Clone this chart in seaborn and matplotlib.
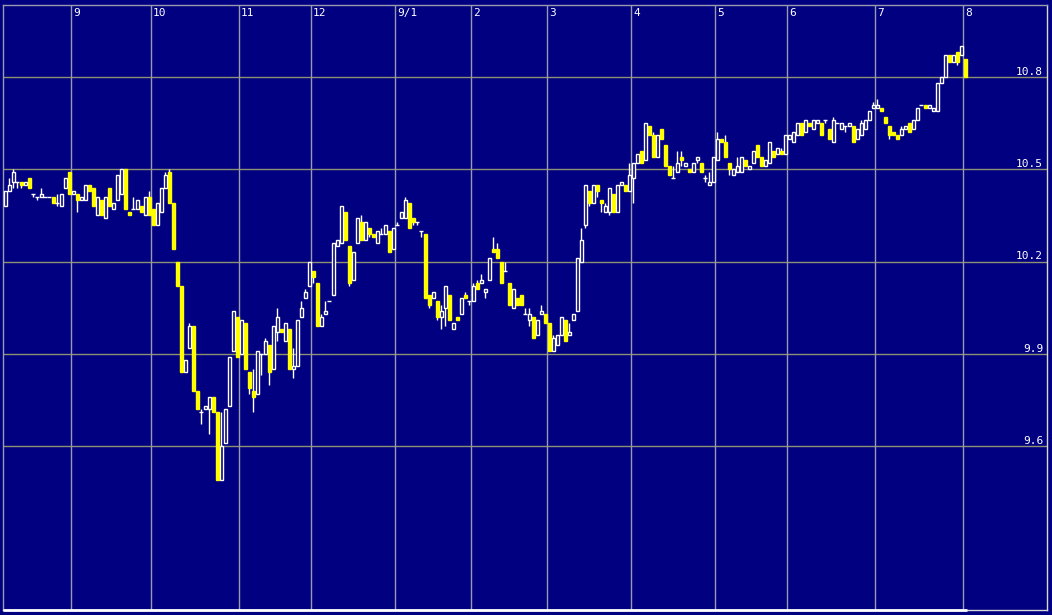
import numpy as np
import pandas as pd
import matplotlib
matplotlib.use("Agg")
import matplotlib.pyplot as plt
import matplotlib.transforms as mtransforms
import seaborn as sns

# ---------------- data (intraday candles) ----------------
open_ = [10.38, 10.43, 10.46, 10.46, 10.46, 10.45, 10.47, 10.42, 10.41, 10.41,
         10.41, 10.41, 10.41, 10.39, 10.38, 10.44, 10.49, 10.42, 10.42, 10.40,
         10.40, 10.45, 10.44, 10.35, 10.40, 10.34, 10.44, 10.37, 10.40, 10.42,
         10.50, 10.36, 10.37, 10.37, 10.38, 10.35, 10.41, 10.37, 10.32, 10.36,
         10.44, 10.49, 10.39, 10.20, 10.12, 9.84, 9.92, 9.99, 9.78, 9.71,
         9.72, 9.72, 9.76, 9.71, 9.49, 9.61, 9.73, 9.91, 10.02, 9.90,
         10.00, 9.84, 9.78, 9.77, 9.90, 9.90, 9.93, 9.85, 9.97, 9.98,
         9.94, 9.98, 9.85, 9.86, 10.02, 10.08, 10.12, 10.17, 10.13, 9.99,
         10.03, 10.07, 10.09, 10.25, 10.26, 10.36, 10.25, 10.14, 10.26, 10.33,
         10.27, 10.31, 10.29, 10.26, 10.29, 10.29, 10.30, 10.24, 10.32, 10.34,
         10.34, 10.39, 10.34, 10.33, 10.30, 10.29, 10.09, 10.08, 10.07, 10.02,
         10.05, 10.09, 9.98, 10.02, 10.03, 10.09, 10.07, 10.07, 10.13, 10.13,
         10.10, 10.14, 10.24, 10.24, 10.20, 10.17, 10.13, 10.05, 10.08, 10.09,
         10.03, 10.01, 10.02, 9.96, 10.03, 10.03, 10.00, 9.91, 9.93, 9.96,
         10.01, 9.96, 10.01, 10.04, 10.20, 10.32, 10.43, 10.39, 10.45, 10.40,
         10.36, 10.36, 10.42, 10.36, 10.45, 10.45, 10.43, 10.47, 10.52, 10.56,
         10.53, 10.64, 10.61, 10.54, 10.63, 10.58, 10.51, 10.47, 10.49, 10.54,
         10.51, 10.50, 10.49, 10.53, 10.52, 10.47, 10.45, 10.46, 10.53, 10.60,
         10.59, 10.52, 10.48, 10.49, 10.49, 10.53, 10.50, 10.52, 10.58, 10.54,
         10.51, 10.52, 10.56, 10.55, 10.56, 10.55, 10.60, 10.59, 10.61, 10.65,
         10.62, 10.65, 10.63, 10.65, 10.65, 10.66, 10.63, 10.59, 10.65, 10.63,
         10.64, 10.64, 10.64, 10.60, 10.61, 10.63, 10.66, 10.70, 10.70, 10.70,
         10.67, 10.64, 10.62, 10.61, 10.61, 10.63, 10.65, 10.63, 10.66, 10.71,
         10.71, 10.70, 10.69, 10.69, 10.78, 10.80, 10.87, 10.85, 10.88, 10.87,
         10.86]
high = [10.43, 10.47, 10.50, 10.46, 10.46, 10.46, 10.47, 10.42, 10.41, 10.44,
        10.41, 10.41, 10.41, 10.42, 10.42, 10.47, 10.49, 10.43, 10.42, 10.41,
        10.45, 10.45, 10.44, 10.41, 10.40, 10.41, 10.44, 10.39, 10.48, 10.50,
        10.50, 10.36, 10.41, 10.40, 10.38, 10.41, 10.43, 10.37, 10.39, 10.44,
        10.49, 10.50, 10.39, 10.20, 10.12, 9.88, 10.00, 9.99, 9.78, 9.72,
        9.73, 9.76, 9.76, 9.71, 9.71, 9.72, 9.89, 10.04, 10.02, 10.01,
        10.00, 9.84, 9.85, 9.91, 9.90, 9.95, 9.93, 9.99, 10.05, 9.98,
        10.00, 9.98, 9.92, 10.01, 10.07, 10.11, 10.20, 10.17, 10.13, 10.03,
        10.07, 10.07, 10.26, 10.27, 10.38, 10.36, 10.25, 10.23, 10.34, 10.35,
        10.33, 10.31, 10.29, 10.30, 10.31, 10.32, 10.30, 10.31, 10.33, 10.36,
        10.41, 10.39, 10.34, 10.33, 10.30, 10.29, 10.09, 10.10, 10.07, 10.06,
        10.12, 10.09, 10.00, 10.02, 10.08, 10.10, 10.07, 10.13, 10.14, 10.16,
        10.11, 10.21, 10.28, 10.26, 10.20, 10.20, 10.13, 10.11, 10.08, 10.09,
        10.05, 10.05, 10.02, 10.01, 10.06, 10.03, 10.00, 9.96, 9.96, 10.02,
        10.01, 10.00, 10.03, 10.21, 10.31, 10.45, 10.43, 10.45, 10.45, 10.40,
        10.39, 10.44, 10.42, 10.45, 10.46, 10.45, 10.52, 10.52, 10.55, 10.56,
        10.65, 10.64, 10.62, 10.61, 10.63, 10.58, 10.51, 10.51, 10.56, 10.56,
        10.52, 10.50, 10.52, 10.54, 10.52, 10.48, 10.49, 10.54, 10.62, 10.60,
        10.61, 10.52, 10.50, 10.54, 10.54, 10.53, 10.51, 10.56, 10.58, 10.54,
        10.53, 10.59, 10.56, 10.57, 10.57, 10.61, 10.61, 10.62, 10.65, 10.65,
        10.66, 10.65, 10.66, 10.66, 10.65, 10.66, 10.63, 10.67, 10.65, 10.65,
        10.64, 10.65, 10.64, 10.63, 10.66, 10.66, 10.69, 10.72, 10.73, 10.70,
        10.67, 10.64, 10.62, 10.61, 10.64, 10.64, 10.65, 10.66, 10.70, 10.71,
        10.71, 10.71, 10.70, 10.78, 10.80, 10.87, 10.87, 10.87, 10.88, 10.90,
        10.86]
low = [10.38, 10.43, 10.44, 10.44, 10.44, 10.45, 10.44, 10.41, 10.40, 10.41,
       10.41, 10.41, 10.39, 10.38, 10.38, 10.44, 10.42, 10.42, 10.36, 10.40,
       10.40, 10.43, 10.38, 10.35, 10.35, 10.34, 10.38, 10.37, 10.40, 10.42,
       10.37, 10.35, 10.37, 10.37, 10.36, 10.35, 10.35, 10.32, 10.32, 10.36,
       10.44, 10.39, 10.24, 10.12, 9.84, 9.84, 9.92, 9.78, 9.72, 9.67,
       9.72, 9.64, 9.71, 9.49, 9.49, 9.61, 9.73, 9.91, 9.89, 9.90,
       9.85, 9.77, 9.71, 9.77, 9.83, 9.90, 9.80, 9.85, 9.94, 9.97,
       9.94, 9.85, 9.82, 9.86, 10.02, 10.08, 10.12, 10.13, 9.99, 9.99,
       10.03, 10.07, 10.09, 10.25, 10.26, 10.27, 10.12, 10.14, 10.26, 10.27,
       10.27, 10.28, 10.28, 10.26, 10.29, 10.29, 10.23, 10.24, 10.32, 10.34,
       10.34, 10.31, 10.32, 10.32, 10.28, 10.08, 10.05, 10.08, 10.01, 9.98,
       9.99, 10.01, 9.98, 10.01, 10.03, 10.08, 10.06, 10.07, 10.11, 10.13,
       10.08, 10.14, 10.23, 10.21, 10.13, 10.17, 10.06, 10.05, 10.06, 10.06,
       10.03, 9.99, 9.95, 9.96, 10.03, 10.00, 9.91, 9.91, 9.93, 9.96,
       9.94, 9.96, 10.01, 10.04, 10.20, 10.31, 10.38, 10.39, 10.41, 10.36,
       10.36, 10.35, 10.36, 10.36, 10.45, 10.43, 10.43, 10.39, 10.52, 10.52,
       10.53, 10.61, 10.54, 10.54, 10.60, 10.51, 10.48, 10.47, 10.49, 10.51,
       10.51, 10.49, 10.49, 10.52, 10.49, 10.46, 10.45, 10.46, 10.53, 10.59,
       10.54, 10.48, 10.48, 10.49, 10.49, 10.51, 10.50, 10.52, 10.54, 10.51,
       10.51, 10.52, 10.54, 10.55, 10.55, 10.55, 10.60, 10.59, 10.61, 10.61,
       10.62, 10.64, 10.63, 10.65, 10.61, 10.65, 10.60, 10.59, 10.65, 10.63,
       10.62, 10.64, 10.59, 10.60, 10.61, 10.63, 10.66, 10.70, 10.70, 10.69,
       10.65, 10.60, 10.61, 10.60, 10.61, 10.63, 10.62, 10.63, 10.66, 10.71,
       10.70, 10.70, 10.69, 10.69, 10.78, 10.80, 10.85, 10.85, 10.84, 10.87,
       10.80]
close = [10.43, 10.45, 10.49, 10.46, 10.45, 10.46, 10.44, 10.42, 10.41, 10.42,
         10.41, 10.41, 10.39, 10.39, 10.42, 10.47, 10.42, 10.43, 10.40, 10.41,
         10.45, 10.43, 10.38, 10.41, 10.35, 10.41, 10.38, 10.39, 10.48, 10.50,
         10.37, 10.35, 10.37, 10.40, 10.36, 10.41, 10.35, 10.32, 10.39, 10.44,
         10.48, 10.39, 10.24, 10.12, 9.84, 9.88, 9.99, 9.78, 9.72, 9.71,
         9.73, 9.76, 9.71, 9.49, 9.60, 9.72, 9.89, 10.04, 9.89, 10.01,
         9.85, 9.79, 9.76, 9.91, 9.90, 9.94, 9.84, 9.99, 10.02, 9.97,
         10.00, 9.85, 9.86, 10.01, 10.05, 10.10, 10.20, 10.15, 9.99, 10.02,
         10.04, 10.07, 10.26, 10.27, 10.38, 10.27, 10.13, 10.23, 10.34, 10.27,
         10.33, 10.29, 10.28, 10.30, 10.29, 10.32, 10.23, 10.31, 10.32, 10.36,
         10.40, 10.31, 10.33, 10.33, 10.30, 10.08, 10.06, 10.10, 10.02, 10.04,
         10.12, 10.01, 10.00, 10.01, 10.08, 10.08, 10.07, 10.12, 10.11, 10.14,
         10.11, 10.21, 10.23, 10.21, 10.13, 10.17, 10.06, 10.11, 10.06, 10.06,
         10.03, 10.03, 9.95, 10.01, 10.04, 10.00, 9.91, 9.95, 9.96, 10.02,
         9.94, 9.97, 10.03, 10.21, 10.27, 10.45, 10.39, 10.45, 10.43, 10.39,
         10.38, 10.44, 10.36, 10.45, 10.46, 10.43, 10.48, 10.52, 10.55, 10.52,
         10.65, 10.61, 10.54, 10.61, 10.60, 10.51, 10.48, 10.47, 10.52, 10.53,
         10.52, 10.49, 10.52, 10.54, 10.49, 10.47, 10.46, 10.54, 10.60, 10.59,
         10.54, 10.50, 10.50, 10.51, 10.54, 10.51, 10.51, 10.56, 10.54, 10.51,
         10.53, 10.59, 10.54, 10.57, 10.55, 10.61, 10.61, 10.62, 10.65, 10.61,
         10.66, 10.64, 10.66, 10.66, 10.61, 10.66, 10.60, 10.66, 10.65, 10.65,
         10.64, 10.65, 10.59, 10.63, 10.65, 10.66, 10.69, 10.71, 10.71, 10.69,
         10.65, 10.61, 10.61, 10.60, 10.63, 10.64, 10.62, 10.66, 10.70, 10.71,
         10.70, 10.71, 10.70, 10.78, 10.80, 10.87, 10.85, 10.87, 10.85, 10.90,
         10.80]
day_labels = ["9", "10", "11", "12", "9/1", "2", "3", "4", "5", "6", "7", "8"]
day_start = [17, 37, 59, 77, 98, 117, 136, 157, 178, 196, 218, 240]
price_ticks = [9.6, 9.9, 10.2, 10.5, 10.8]

# ---------------- styling ----------------
NAVY = "#000080"
HGRID = "#8f8f72"
VGRID = "#9a9aae"
sns.set_style("dark", {"axes.facecolor": NAVY, "figure.facecolor": NAVY,
                       "axes.edgecolor": VGRID, "grid.color": VGRID})
plt.rcParams["font.family"] = ["DejaVu Sans Mono", "DejaVu Sans"]

df = pd.DataFrame({"open": open_, "high": high, "low": low, "close": close})
df["x"] = np.arange(len(df)) + 0.5
up = df[df.close > df.open]
dn = df[df.close < df.open]
dj = df[df.close == df.open]

fig = plt.figure(figsize=(10.52, 6.15), dpi=100)
ax = fig.add_axes([2.7 / 1052, 1 - 610 / 615, (1046.6 - 2.7) / 1052, (610 - 4.5) / 615])
ax.set_xlim(-0.15, 260.85)
ax.set_ylim(9.0667, 11.0358)

# grid
for v in price_ticks:
    ax.axhline(v, color=HGRID, lw=1, zorder=1)
for d in day_start:
    ax.axvline(d, color=VGRID, lw=1, zorder=1)

# wicks
ax.vlines(df.x, df.low, df.high, color="white", lw=1, zorder=2)
# bodies
ax.bar(up.x, up.close - up.open, bottom=up.open, width=0.72,
       facecolor=NAVY, edgecolor="white", lw=1, zorder=3)
ax.bar(dn.x, dn.open - dn.close, bottom=dn.close, width=0.72,
       facecolor="#ffff00", edgecolor="#ffff00", lw=1, zorder=3)
ax.hlines(dj.open, dj.x - 0.45, dj.x + 0.45, color="white", lw=1, zorder=3)

# labels
top_tr = mtransforms.blended_transform_factory(ax.transData, ax.transAxes)
top_tr = top_tr + mtransforms.ScaledTranslation(0, -2.5 / 72, fig.dpi_scale_trans)
for d, lab in zip(day_start, day_labels):
    ax.text(d + 0.45, 1, lab, transform=top_tr, ha="left", va="top",
            color="white", fontsize=8)
r_tr = mtransforms.blended_transform_factory(ax.transAxes, ax.transData)
r_tr = r_tr + mtransforms.ScaledTranslation(-2.5 / 72, 1.5 / 72, fig.dpi_scale_trans)
for v in price_ticks:
    ax.text(1, v, f"{v:.1f}", transform=r_tr, ha="right", va="baseline",
            color="white", fontsize=8)

ax.set_xticks([])
ax.set_yticks([])
ax.grid(False)
for s in ["top", "left"]:
    ax.spines[s].set_color(VGRID)
for s in ["right", "bottom"]:
    ax.spines[s].set_color("#d8d8d8")
for s in ax.spines.values():
    s.set_linewidth(1)
ax.plot([-0.15, len(df)], [9.0667, 9.0667], color="white", lw=2,
        clip_on=False, zorder=5, solid_capstyle="butt")

fig.savefig("out.png", dpi=100, facecolor=NAVY)
